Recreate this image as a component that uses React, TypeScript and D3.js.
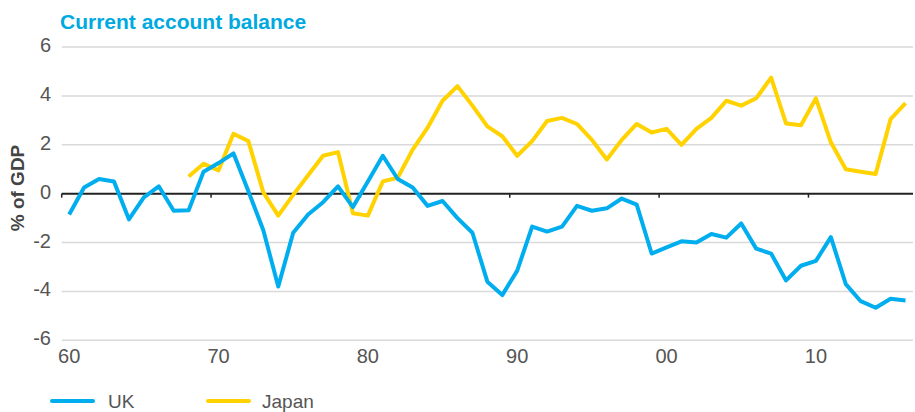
import React from "react";
import * as d3 from "d3";

const years: number[] = d3.range(1960, 2017);
const ukValues: number[] = [
  -0.85, 0.25, 0.6, 0.5, -1.05, -0.15, 0.3, -0.7, -0.68, 0.9,
  1.25, 1.65, 0.1, -1.5, -3.8, -1.6, -0.85, -0.35, 0.3, -0.55,
  0.5, 1.55, 0.6, 0.25, -0.5, -0.3, -1.0, -1.6, -3.6, -4.15,
  -3.15, -1.35, -1.55, -1.35, -0.5, -0.7, -0.6, -0.2, -0.45, -2.45,
  -2.2, -1.95, -2.0, -1.65, -1.8, -1.22, -2.25, -2.45, -3.55, -2.95,
  -2.75, -1.78, -3.7, -4.4, -4.67, -4.3, -4.37,
];
const japanYears: number[] = d3.range(1968, 2017);
const japanValues: number[] = [
  0.7, 1.22,
  0.95, 2.45, 2.15, 0.05, -0.9, -0.05, 0.75, 1.55, 1.7, -0.8,
  -0.9, 0.5, 0.65, 1.8, 2.7, 3.8, 4.4, 3.6, 2.75, 2.35,
  1.55, 2.15, 2.97, 3.1, 2.85, 2.2, 1.4, 2.2, 2.85, 2.5,
  2.65, 2.0, 2.65, 3.1, 3.8, 3.6, 3.9, 4.75, 2.87, 2.8,
  3.9, 2.1, 1.0, 0.9, 0.8, 3.05, 3.7,
];
const yTicks: number[] = [-6, -4, -2, 0, 2, 4, 6];
const xTicks: number[] = [1960, 1970, 1980, 1990, 2000, 2010];
const xTickLabels: string[] = ["60", "70", "80", "90", "00", "10"];
const seriesNames: string[] = ["UK", "Japan"];

const UK_COLOR = "#00aeef";
const JP_COLOR = "#ffd200";
const FONT = "'Liberation Sans', Arial, Helvetica, sans-serif";

export default function App() {
  const W = 915;
  const H = 412;
  const x = d3.scaleLinear().domain([1960, 2017]).range([61.7, 913]);
  const y = d3.scaleLinear().domain([-6, 6]).range([340.3, 47]);

  const line = d3
    .line<[number, number]>()
    .x((d) => x(d[0] + 0.5))
    .y((d) => y(d[1]));

  const ukPath = line(years.map((yr, i) => [yr, ukValues[i]]) as [number, number][]) || "";
  const jpPath = line(japanYears.map((yr, i) => [yr, japanValues[i]]) as [number, number][]) || "";

  const legend = [
    { name: seriesNames[0], color: UK_COLOR, x0: 52, tx: 108 },
    { name: seriesNames[1], color: JP_COLOR, x0: 208, tx: 262 },
  ];

  return (
    <svg
      width={W}
      height={H}
      style={{ position: "absolute", left: 0, top: 0, background: "#fff" }}
      fontFamily={FONT}
    >
      <text x={60} y={29} fontSize={21} fontWeight="bold" fill="#00a9e0">
        Current account balance
      </text>
      {yTicks.map((t) => (
        <g key={t}>
          {t !== 0 && (
            <line
              x1={x(1960)}
              x2={x(2017)}
              y1={y(t)}
              y2={y(t)}
              stroke="#d9d9d9"
              strokeWidth={1.5}
            />
          )}
          <text
            x={51}
            y={y(t) - 2}
            dy="0.35em"
            textAnchor="end"
            fontSize={20}
            fill="#555"
          >
            {t}
          </text>
        </g>
      ))}
      <line x1={x(1960)} x2={x(2017)} y1={y(0)} y2={y(0)} stroke="#222" strokeWidth={2} />
      {xTicks.map((t, i) => (
        <g key={t}>
          <line x1={x(t)} x2={x(t)} y1={y(0)} y2={y(0) + 4} stroke="#222" strokeWidth={1.5} />
          <text x={x(t + 0.5)} y={363} textAnchor="middle" fontSize={20} fill="#555">
            {xTickLabels[i]}
          </text>
        </g>
      ))}
      <text
        transform={`translate(24,188) rotate(-90)`}
        textAnchor="middle"
        fontSize={19}
        fontWeight="bold"
        fill="#444"
      >
        % of GDP
      </text>
      <path d={jpPath} fill="none" stroke={JP_COLOR} strokeWidth={4} strokeLinejoin="round" />
      <path d={ukPath} fill="none" stroke={UK_COLOR} strokeWidth={4} strokeLinejoin="round" />
      {legend.map((l) => (
        <g key={l.name}>
          <line
            x1={l.x0}
            x2={l.x0 + 41}
            y1={401}
            y2={401}
            stroke={l.color}
            strokeWidth={4}
            strokeLinecap="round"
          />
          <text x={l.tx} y={408} fontSize={19} fill="#555">
            {l.name}
          </text>
        </g>
      ))}
    </svg>
  );
}
